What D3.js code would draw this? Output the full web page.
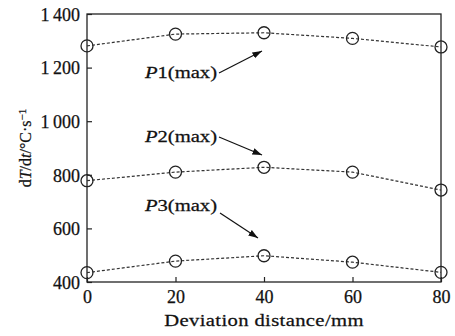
<!DOCTYPE html>
<html>
<head>
<meta charset="utf-8">
<script src="https://cdn.jsdelivr.net/npm/d3@7"></script>
<style>
  body { margin: 0; background: #fff; }
  svg { display: block; font-family: "Liberation Serif", "Times New Roman", serif; }
  svg text { stroke: #111; stroke-width: 0.25px; }
</style>
</head>
<body>
<div id="chart"></div>
<script>
const distances = [0, 20, 40, 60, 80];
const p1 = [1281, 1325, 1330, 1309, 1277];
const p2 = [778, 810, 828, 810, 743];
const p3 = [435, 478, 498, 474, 436];
const xTicks = [0, 20, 40, 60, 80];
const yTicks = [400, 600, 800, 1000, 1200, 1400];
const labels = ['P1', 'P2', 'P3'];

const W = 455, H = 336;
const margin = {top: 14, right: 14, bottom: 54, left: 87};
const width = W - margin.left - margin.right;
const height = H - margin.top - margin.bottom;
const stretch = 1.25; // the source figure is a little wider than tall

const svg = d3.select('#chart').append('svg')
  .attr('width', W)
  .attr('height', H);

const g = svg.append('g')
  .attr('transform', 'translate(' + margin.left + ',' + margin.top + ')');

const x = d3.scaleLinear().domain([0, 80]).range([0, width]);
const y = d3.scaleLinear().domain([400, 1400]).range([height, 0]);

const fmt = d => d >= 1000 ? Math.floor(d / 1000) + '\u2009' + String(d % 1000).padStart(3, '0') : String(d);

// frame
g.append('rect')
  .attr('width', width).attr('height', height)
  .attr('fill', 'none').attr('stroke', '#222').attr('stroke-width', 1.3);

const xAxis = g.append('g')
  .attr('transform', 'translate(0,' + height + ')')
  .call(d3.axisBottom(x).tickValues(xTicks).tickSizeInner(-5).tickSizeOuter(0).tickPadding(8));
const yAxis = g.append('g')
  .call(d3.axisLeft(y).tickValues(yTicks).tickSizeInner(-5).tickSizeOuter(0).tickPadding(7).tickFormat(fmt));

[xAxis, yAxis].forEach(a => {
  a.select('.domain').remove();
  a.selectAll('line').attr('stroke', '#222').attr('stroke-width', 1.2);
  a.selectAll('text').attr('fill', '#111').style('font-size', '18px')
    .style('font-family', '"Liberation Serif", serif');
});
yAxis.selectAll('text').attr('dy', '0.35em');

// series
const line = d3.line().x((d, i) => x(distances[i])).y(d => y(d));
[p1, p2, p3].forEach(s => {
  g.append('path').datum(s)
    .attr('d', line)
    .attr('fill', 'none')
    .attr('stroke', '#333')
    .attr('stroke-width', 1.2)
    .attr('stroke-dasharray', '3,2');
  g.selectAll(null).data(s).enter().append('circle')
    .attr('cx', (d, i) => x(distances[i]))
    .attr('cy', d => y(d))
    .attr('r', 6)
    .attr('fill', 'none')
    .attr('stroke', '#222')
    .attr('stroke-width', 1.3);
});

// annotations
svg.append('defs').append('marker')
  .attr('id', 'arr').attr('viewBox', '0 0 10 10')
  .attr('refX', 10).attr('refY', 5)
  .attr('markerWidth', 8).attr('markerHeight', 8)
  .attr('orient', 'auto-start-reverse')
  .append('path').attr('d', 'M0,1.5L10,5L0,8.5Z').attr('fill', '#111');

const notes = [
  {label: labels[0], tx: 217, ty: 78, x1: 219, y1: 73, x2: 262, y2: 51},
  {label: labels[1], tx: 217, ty: 142, x1: 219, y1: 137, x2: 262, y2: 155},
  {label: labels[2], tx: 217, ty: 211, x1: 220, y1: 213, x2: 258, y2: 238}
];
notes.forEach(n => {
  const t = svg.append('text')
    .attr('transform', 'translate(' + n.tx + ',' + n.ty + ') scale(' + stretch + ',1)')
    .attr('text-anchor', 'end')
    .attr('fill', '#111')
    .style('font-size', '16.5px');
  t.append('tspan').style('font-style', 'italic').text(n.label[0]);
  t.append('tspan').text(n.label.slice(1) + '(max)');
  svg.append('line')
    .attr('x1', n.x1).attr('y1', n.y1).attr('x2', n.x2).attr('y2', n.y2)
    .attr('stroke', '#111').attr('stroke-width', 1.2)
    .attr('marker-end', 'url(#arr)');
});

// axis titles
svg.append('text')
  .attr('transform', 'translate(' + (margin.left + width / 2) + ',326) scale(' + stretch + ',1)')
  .attr('text-anchor', 'middle')
  .attr('fill', '#111')
  .style('font-size', '16.5px')
  .style('letter-spacing', '0.3px')
  .text('Deviation distance/mm');

const yl = svg.append('text')
  .attr('transform', 'translate(31,148) rotate(-90)')
  .attr('text-anchor', 'middle')
  .attr('fill', '#111')
  .style('font-size', '16px');
yl.append('tspan').text('d');
yl.append('tspan').style('font-style', 'italic').text('T');
yl.append('tspan').text('/d');
yl.append('tspan').style('font-style', 'italic').text('t');
yl.append('tspan').text('/\u00B0C\u00B7s');
yl.append('tspan').attr('dy', '-0.45em').style('font-size', '11px').text('\u22121');
</script>
</body>
</html>
